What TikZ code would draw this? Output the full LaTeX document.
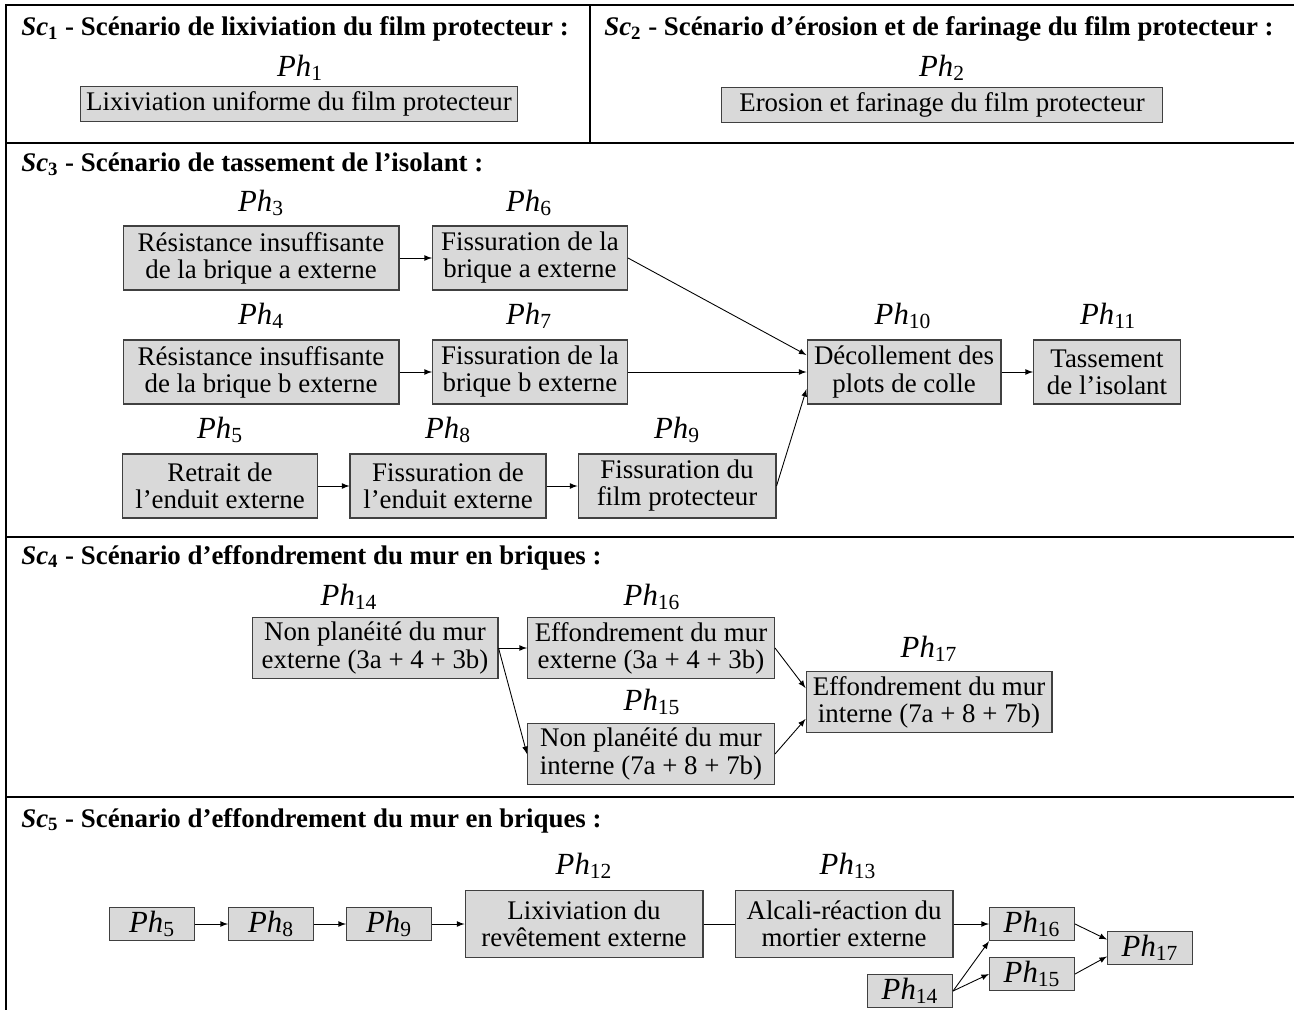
\documentclass[tikz,border=0pt]{standalone}
\usepackage{fontspec}
\setmainfont{Liberation Serif}
\newcommand\boxfont{\fontsize{15.3}{15.4}\selectfont}
\newcommand\labfont{\fontsize{17.5}{18}\selectfont}
\newcommand\titfont{\fontsize{15.3}{16}\selectfont\bfseries}
\newcommand\phlab[1]{\textit{Ph}\textsubscript{#1}}
\newcommand\sclab[1]{\textit{Sc}\textsubscript{#1}}
\begin{document}
\begin{tikzpicture}[x=0.02cm,y=-0.02cm,
                tab/.style={line width=1.6pt},
                box/.style={draw=black!75,fill=black!15,line width=0.6pt,align=center,inner sep=0pt,font=\boxfont},
                rowa/.style={box,minimum height=0.70cm},
                rowb/.style={box,minimum height=1.28cm},
                rowc/.style={box,minimum height=1.22cm},
                rowd/.style={box,minimum height=1.34cm},
                phbox/.style={box,font=\labfont,minimum width=1.7cm,minimum height=0.67cm},
                lab/.style={font=\labfont},
                tit/.style={anchor=base west,font=\titfont,inner sep=0pt},
                arr/.style={-latex,line width=0.5pt}]
                \useasboundingbox (0,0) rectangle (1294,1010);
                \draw[tab] (6,1010) -- (6,5) -- (1294,5);
                \draw[tab] (6,143) -- (1294,143);
                \draw[tab] (6,537) -- (1294,537);
                \draw[tab] (6,797) -- (1294,797);
                \draw[tab] (590,5) -- (590,143);
                \node[tit] (sc1) at (21,36) {\sclab{1} - Scénario de lixiviation du film protecteur :};
                \node[tit] (sc2) at (604,36) {\sclab{2} - Scénario d’érosion et de farinage du film protecteur :};
                \node[tit] (sc3) at (21,172) {\sclab{3} - Scénario de tassement de l’isolant :};
                \node[tit] (sc4) at (21,564) {\sclab{4} - Scénario d’effondrement du mur en briques :};
                \node[tit] (sc5) at (21,827) {\sclab{5} - Scénario d’effondrement du mur en briques :};
                \node[lab] (l1) at (300,68) {\phlab{1}};
                \node[rowa,minimum width=8.76cm] (ph1) at (299,104) {Lixiviation uniforme du film protecteur};
                \node[lab] (l2) at (942,68) {\phlab{2}};
                \node[rowa,minimum width=8.82cm] (ph2) at (942,105) {Erosion et farinage du film protecteur};
                \node[lab] (l3) at (261,203) {\phlab{3}};
                \node[rowb,minimum width=5.52cm] (ph3) at (261,258) {Résistance insuffisante\\de la brique a externe};
                \node[lab] (l6) at (529,203) {\phlab{6}};
                \node[rowb,minimum width=3.9cm] (ph6) at (530,258) {Fissuration de la\\brique a externe};
                \node[lab] (l4) at (261,316) {\phlab{4}};
                \node[rowb,minimum width=5.52cm] (ph4) at (261,372) {Résistance insuffisante\\de la brique b externe};
                \node[lab] (l7) at (529,316) {\phlab{7}};
                \node[rowb,minimum width=3.9cm] (ph7) at (530,372) {Fissuration de la\\brique b externe};
                \node[lab] (l5) at (220,430) {\phlab{5}};
                \node[rowb,minimum width=3.9cm] (ph5) at (220,486) {Retrait de\\l’enduit externe};
                \node[lab] (l8) at (448,430) {\phlab{8}};
                \node[rowb,minimum width=3.92cm] (ph8) at (448,486) {Fissuration de\\l’enduit externe};
                \node[lab] (l9) at (677,430) {\phlab{9}};
                \node[rowb,minimum width=3.96cm] (ph9) at (677,486) {Fissuration du\\film protecteur};
                \node[lab] (l10) at (903,316) {\phlab{10}};
                \node[rowb,minimum width=3.88cm] (ph10) at (904,372) {Décollement des\\plots de colle};
                \node[lab] (l11) at (1108,316) {\phlab{11}};
                \node[rowb,minimum width=2.94cm] (ph11) at (1107,372) {Tassement\\de l’isolant};
                \draw[arr] (ph3) -- (ph6);
                \draw[arr] (ph4) -- (ph7);
                \draw[arr] (ph5) -- (ph8);
                \draw[arr] (ph8) -- (ph9);
                \draw[arr] (ph6.east) -- ([yshift=0.34cm]ph10.west);
                \draw[arr] (ph7) -- (ph10);
                \draw[arr] (ph9.east) -- ([yshift=-0.34cm]ph10.west);
                \draw[arr] (ph10) -- (ph11);
                \node[lab] (l14) at (349,597) {\phlab{14}};
                \node[rowc,minimum width=4.92cm] (e14) at (375,648) {Non planéité du mur\\externe (3a + 4 + 3b)};
                \node[lab] (l16) at (652,597) {\phlab{16}};
                \node[rowc,minimum width=4.94cm] (e16) at (651,648) {Effondrement du mur\\externe (3a + 4 + 3b)};
                \node[lab] (l15) at (652,702) {\phlab{15}};
                \node[rowc,minimum width=4.94cm] (e15) at (651,754) {Non planéité du mur\\interne (7a + 8 + 7b)};
                \node[lab] (l17) at (929,649) {\phlab{17}};
                \node[rowc,minimum width=4.92cm] (e17) at (929,702) {Effondrement du mur\\interne (7a + 8 + 7b)};
                \draw[arr] (e14.east) -- (e16.west);
                \draw[arr] (e14.east) -- (e15.west);
                \draw[arr] (e16.east) -- ([yshift=0.28cm]e17.west);
                \draw[arr] (e15.east) -- ([yshift=-0.34cm]e17.west);
                \node[phbox] (f5) at (152,924) {\phlab{5}};
                \node[phbox] (f8) at (271,924) {\phlab{8}};
                \node[phbox] (f9) at (389,924) {\phlab{9}};
                \node[lab] (l12) at (584,866) {\phlab{12}};
                \node[rowd,minimum width=4.76cm] (f12) at (584,924) {Lixiviation du\\revêtement externe};
                \node[lab] (l13) at (848,866) {\phlab{13}};
                \node[rowd,minimum width=4.36cm] (f13) at (844,924) {Alcali-réaction du\\mortier externe};
                \node[phbox] (f16) at (1032,924) {\phlab{16}};
                \node[phbox] (f15) at (1032,974) {\phlab{15}};
                \node[phbox] (f14) at (910,991) {\phlab{14}};
                \node[phbox] (f17) at (1150,948) {\phlab{17}};
                \draw[arr] (f5) -- (f8);
                \draw[arr] (f8) -- (f9);
                \draw[arr] (f9) -- (f12);
                \draw[line width=0.5pt] (f12) -- (f13);
                \draw[arr] (f13) -- (f16);
                \draw[arr] (f14.east) -- (f16.south west);
                \draw[arr] (f14.east) -- (f15.west);
                \draw[arr] (f16.east) -- ([yshift=0.17cm]f17.west);
                \draw[arr] (f15.east) -- ([yshift=-0.17cm]f17.west);
            \end{tikzpicture}
\end{document}
